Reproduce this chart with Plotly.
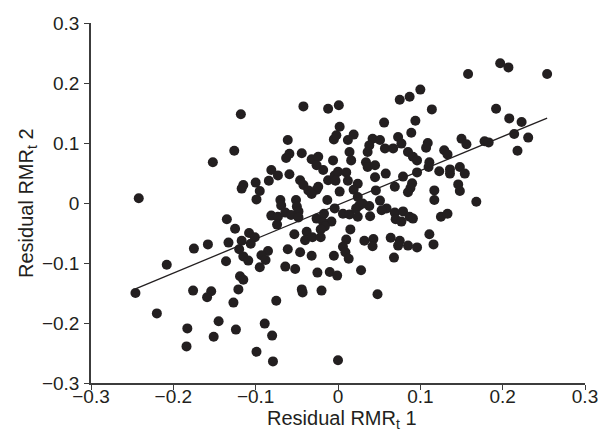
import plotly.graph_objects as go

# Residual RMR_t 1 (x) and Residual RMR_t 2 (y)
x_vals = [
    0.158, 0.197, 0.207, 0.254, 0.100, 0.087, 0.075, 0.114, 0.192, 0.208,
    0.223, 0.214, 0.231, 0.218, 0.056, 0.094, 0.089, -0.042, -0.012, 0.001,
    0.002, -0.118, -0.061, -0.005, -0.002, 0.012, 0.019, 0.042, 0.051, 0.038,
    0.036, 0.057, 0.067, 0.073, 0.077, 0.085, 0.091, 0.096, 0.109, 0.107,
    0.111, 0.110, 0.129, 0.133, 0.150, 0.156, 0.178, 0.183, -0.126, -0.152,
    -0.059, -0.063, -0.044, -0.032, -0.024, -0.026, -0.018, -0.006, 0.014, 0.016,
    0.034, 0.036, 0.045, -0.081, -0.073, -0.059, -0.084, -0.100, -0.115, -0.117,
    -0.095, -0.099, -0.070, -0.069, -0.051, -0.050, -0.048, -0.046, -0.042, -0.036,
    -0.026, -0.032, -0.024, -0.012, -0.004, 0.000, 0.010, 0.012, 0.024, -0.003,
    0.002, -0.013, -0.004, 0.045, 0.058, 0.079, 0.096, 0.123, 0.136, 0.136,
    0.148, 0.154, 0.069, 0.090, 0.088, 0.085, 0.146, 0.148, 0.117, 0.117,
    0.168, 0.046, 0.019, 0.024, 0.026, 0.038, 0.051, 0.059, 0.069, 0.079,
    0.070, 0.077, 0.087, 0.091, 0.125, 0.133, 0.006, 0.014, 0.024, -0.008,
    0.039, 0.022, 0.030, 0.053, 0.015, 0.010, 0.006, 0.009, 0.013, -0.005,
    0.032, 0.043, 0.042, 0.064, 0.075, 0.073, 0.085, 0.096, 0.111, 0.116,
    0.068, 0.028, -0.010, -0.001, 0.048, 0.000, -0.081, -0.073, -0.064, -0.057,
    -0.048, -0.074, -0.026, -0.017, -0.018, -0.016, -0.135, -0.125, -0.108, -0.101,
    -0.106, -0.117, -0.120, -0.133, -0.158, -0.175, -0.115, -0.109, -0.136, -0.208,
    -0.085, -0.093, -0.088, -0.095, -0.061, -0.046, -0.032, -0.053, -0.038, -0.040,
    -0.031, -0.021, -0.021, -0.064, -0.052, -0.025, -0.119, -0.115, -0.246, -0.176,
    -0.154, -0.159, -0.121, -0.127, -0.075, -0.044, -0.043, -0.020, -0.220, -0.145,
    -0.183, -0.124, -0.089, -0.080, -0.151, -0.184, -0.099, -0.079, -0.242,
]
y_vals = [
    0.215, 0.233, 0.226, 0.215, 0.189, 0.177, 0.172, 0.156, 0.157, 0.141,
    0.135, 0.115, 0.109, 0.087, 0.134, 0.137, 0.117, 0.161, 0.157, 0.163,
    0.127, 0.148, 0.105, 0.106, 0.113, 0.105, 0.114, 0.107, 0.105, 0.096,
    0.085, 0.091, 0.091, 0.110, 0.099, 0.085, 0.077, 0.071, 0.100, 0.092,
    0.068, 0.060, 0.088, 0.081, 0.107, 0.098, 0.103, 0.101, 0.087, 0.068,
    0.082, 0.075, 0.083, 0.073, 0.077, 0.063, 0.055, 0.071, 0.085, 0.071,
    0.068, 0.060, 0.063, 0.055, 0.046, 0.048, 0.037, 0.034, 0.030, 0.024,
    0.020, 0.006, 0.005, -0.004, 0.005, -0.006, -0.014, 0.038, 0.030, 0.021,
    0.022, 0.015, 0.027, 0.038, 0.046, 0.052, 0.051, 0.037, 0.032, 0.037,
    0.019, 0.005, -0.009, 0.043, 0.049, 0.044, 0.051, 0.053, 0.056, 0.049,
    0.060, 0.049, 0.027, 0.033, 0.025, 0.018, 0.031, 0.020, 0.021, 0.005,
    0.002, 0.021, 0.022, 0.010, -0.004, -0.005, 0.004, -0.009, -0.016, -0.014,
    -0.027, -0.031, -0.023, -0.026, -0.023, -0.018, -0.018, -0.019, -0.023, -0.031,
    -0.022, -0.009, -0.001, -0.012, -0.044, -0.061, -0.073, -0.082, -0.093, -0.088,
    -0.063, -0.060, -0.072, -0.058, -0.063, -0.071, -0.071, -0.074, -0.052, -0.069,
    -0.091, -0.112, -0.115, -0.121, -0.152, -0.262, -0.021, -0.023, -0.016, -0.020,
    -0.024, -0.036, -0.026, -0.018, -0.032, -0.039, -0.027, -0.043, -0.050, -0.057,
    -0.068, -0.063, -0.077, -0.066, -0.069, -0.076, -0.089, -0.096, -0.097, -0.103,
    -0.080, -0.087, -0.095, -0.107, -0.077, -0.082, -0.088, -0.052, -0.048, -0.062,
    -0.057, -0.057, -0.044, -0.106, -0.110, -0.116, -0.122, -0.128, -0.150, -0.146,
    -0.147, -0.157, -0.144, -0.166, -0.163, -0.144, -0.149, -0.146, -0.184, -0.197,
    -0.209, -0.211, -0.201, -0.221, -0.223, -0.239, -0.248, -0.264, 0.008,
]

# Fitted regression line
fit_slope = 0.569
fit_intercept = -0.003

tick_vals = [-0.3, -0.2, -0.1, 0, 0.1, 0.2, 0.3]
tick_text = ["\u22120.3", "\u22120.2", "\u22120.1", "0", "0.1", "0.2", "0.3"]

x_title = "Residual RMR<sub>t</sub> 1"
y_title = "Residual RMR<sub>t</sub> 2"

x_min, x_max = min(x_vals), max(x_vals)
line_x = [x_min, x_max]
line_y = [fit_intercept + fit_slope * v for v in line_x]

ink = "#231f20"
axis_ink = "#3c3c3c"

fig = go.Figure()
fig.add_trace(go.Scatter(
    x=x_vals, y=y_vals, mode="markers",
    marker=dict(size=10, color=ink, line=dict(width=0)),
    showlegend=False, hoverinfo="x+y",
))
fig.add_trace(go.Scatter(
    x=line_x, y=line_y, mode="lines",
    line=dict(color=ink, width=1.3),
    showlegend=False, hoverinfo="skip",
))

axis_common = dict(
    range=[-0.3, 0.3], tickvals=tick_vals, ticktext=tick_text,
    showline=True, linecolor=axis_ink, linewidth=1.5,
    ticks="outside", ticklen=5, tickwidth=1.2, tickcolor=axis_ink,
    showgrid=False, zeroline=False, automargin=False,
    tickfont=dict(size=19, color=ink),
)

fig.update_layout(
    width=602, height=434,
    margin=dict(l=83, r=25, t=15, b=59),
    paper_bgcolor="white", plot_bgcolor="white",
    font=dict(family="Liberation Sans, Arial, sans-serif", size=19, color=ink),
    xaxis=dict(**axis_common, ticklabelstandoff=-10),
    yaxis=dict(**axis_common, ticklabelstandoff=1),
    annotations=[
        dict(text=x_title, xref="paper", yref="paper", x=0.5, y=0,
             xanchor="center", yanchor="middle", yshift=-36, xshift=4,
             showarrow=False, font=dict(size=20, color=ink)),
        dict(text=y_title, xref="paper", yref="paper", x=0, y=0.5,
             xanchor="center", yanchor="middle", xshift=-64, textangle=-90,
             showarrow=False, font=dict(size=20, color=ink)),
    ],
)

fig.write_html("out.html")
